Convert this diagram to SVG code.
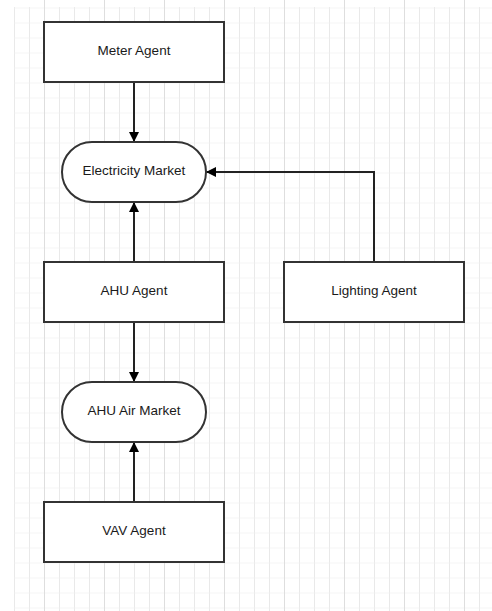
<svg xmlns="http://www.w3.org/2000/svg" width="492" height="611" viewBox="0 0 492 611">
<defs>
<style>
.gh{stroke:#f0f0f0;stroke-width:1.4}
.gv{stroke:#e9e9e9;stroke-width:1}
.gm{stroke:#dedede;stroke-width:1}
.node{fill:#fff;stroke:#333;stroke-width:2}
.lbl{font-family:"Liberation Sans",Arial,sans-serif;font-size:13.5px;fill:#1a1a1a;text-anchor:middle;dominant-baseline:central}
.edge{fill:none;stroke:#222;stroke-width:2}
</style>
<marker id="arr" viewBox="0 0 10 10" refX="10" refY="5" markerWidth="5" markerHeight="5" markerUnits="strokeWidth" orient="auto">
<path d="M0,0 L10,5 L0,10 z" fill="#000"/>
</marker>
<pattern id="minor" x="14" y="7.5" width="15" height="15" patternUnits="userSpaceOnUse">
<line x1="0.5" y1="0" x2="0.5" y2="15" class="gv"/>
<line x1="0" y1="0" x2="15" y2="0" class="gh"/>
</pattern>
<pattern id="major" x="44" y="0" width="60" height="611" patternUnits="userSpaceOnUse">
<line x1="0.5" y1="0" x2="0.5" y2="611" class="gm"/>
</pattern>
</defs>
<rect width="492" height="611" fill="#fff"/>
<g id="grid">
<rect x="14" y="7" width="478" height="604" fill="url(#minor)"/>
<rect x="14" y="0" width="478" height="611" fill="url(#major)"/>
</g>
<g id="connectors">
<line class="edge" x1="134" y1="82" x2="134" y2="142" marker-end="url(#arr)"/>
<line class="edge" x1="134" y1="262" x2="134" y2="202" marker-end="url(#arr)"/>
<polyline class="edge" points="374,262 374,172 206,172" marker-end="url(#arr)"/>
<line class="edge" x1="134" y1="322" x2="134" y2="382" marker-end="url(#arr)"/>
<line class="edge" x1="134" y1="502" x2="134" y2="442" marker-end="url(#arr)"/>
</g>
<g id="meter-agent">
<rect class="node" x="44" y="22" width="180" height="60"/>
<text class="lbl" x="134" y="50">Meter Agent</text>
</g>
<g id="electricity-market">
<rect class="node" x="62" y="142" width="144" height="60" rx="30" ry="30"/>
<text class="lbl" x="134" y="170">Electricity Market</text>
</g>
<g id="ahu-agent">
<rect class="node" x="44" y="262" width="180" height="60"/>
<text class="lbl" x="134" y="290">AHU Agent</text>
</g>
<g id="lighting-agent">
<rect class="node" x="284" y="262" width="180" height="60"/>
<text class="lbl" x="374" y="290">Lighting Agent</text>
</g>
<g id="ahu-air-market">
<rect class="node" x="62" y="382" width="144" height="60" rx="30" ry="30"/>
<text class="lbl" x="134" y="410">AHU Air Market</text>
</g>
<g id="vav-agent">
<rect class="node" x="44" y="502" width="180" height="60"/>
<text class="lbl" x="134" y="530">VAV Agent</text>
</g>
</svg>
